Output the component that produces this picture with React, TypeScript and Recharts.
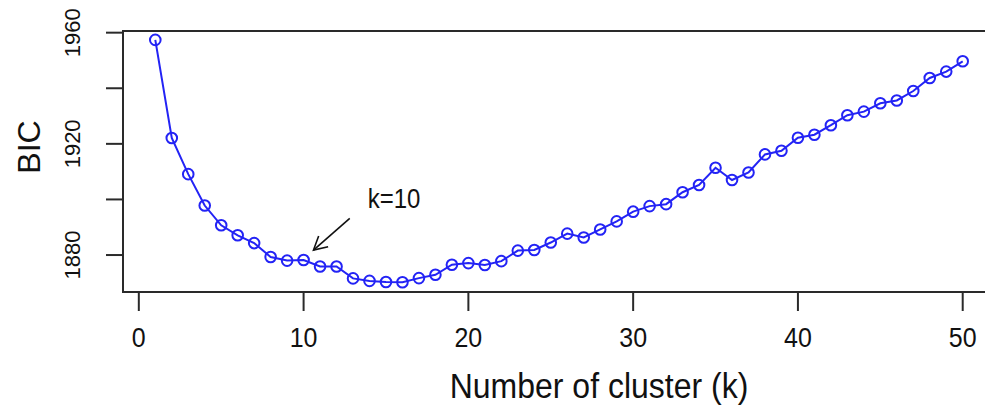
import { LineChart, Line, XAxis, YAxis, ReferenceArea, ReferenceLine } from 'recharts';

// number of clusters k
const kValues = [
  1, 2, 3, 4, 5, 6, 7, 8, 9, 10, 11, 12, 13, 14, 15, 16, 17, 18, 19, 20, 21, 22, 23, 24, 25,
  26, 27, 28, 29, 30, 31, 32, 33, 34, 35, 36, 37, 38, 39, 40, 41, 42, 43, 44, 45, 46, 47, 48, 49, 50,
];

// BIC
const bicValues = [
  1957.4, 1922.1, 1909.1, 1897.8, 1890.7, 1887.1, 1884.3, 1879.3, 1878.0, 1878.2,
  1875.9, 1875.9, 1871.6, 1870.7, 1870.3, 1870.2, 1871.7, 1872.9, 1876.5, 1877.1,
  1876.4, 1877.8, 1881.6, 1881.8, 1884.5, 1887.7, 1886.3, 1889.2, 1892.1, 1895.6,
  1897.6, 1898.3, 1902.6, 1905.2, 1911.4, 1907.0, 1909.7, 1916.2, 1917.5, 1922.2,
  1923.3, 1926.7, 1930.3, 1931.6, 1934.6, 1935.6, 1939.0, 1943.7, 1946.0, 1949.7,
];

const xTicks = [0, 10, 20, 30, 40, 50];
const yTicks = [1880, 1900, 1920, 1940, 1960];
const yLabelled = [1880, 1920, 1960];

const xDomain = [-0.96, 51.96];
const yDomain = [1866.7, 1960.6];

// annotation arrow (tail -> tip), in data units
const arrowSegment = [
  { x: 12.8, y: 1893.2 },
  { x: 10.6, y: 1881.8 },
];
const arrowText = 'k=10';

const data = kValues.map((k, i) => ({ k, bic: bicValues[i] }));

const FONT = '"Liberation Sans", Arial, Helvetica, sans-serif';
const BLUE = '#2323f5';
const INK = '#2a2a2a';

// horizontal text in the source is a little taller than plain Arial
const tall = (x: number, y: number) => `translate(${x}, ${y}) scale(1, 1.12) translate(${-x}, ${-y})`;

const XTick = ({ x, y, payload }: any) => (
  <text
    x={x}
    y={y + 34}
    transform={tall(x, y + 34)}
    textAnchor="middle"
    fontSize={25}
    fontFamily={FONT}
    fill="#111"
  >
    {payload.value}
  </text>
);

const YTick = ({ x, y, payload }: any) => {
  if (!yLabelled.includes(payload.value)) return <g />;
  const bx = x - 24;
  return (
    <text
      x={bx}
      y={y}
      transform={`rotate(-90, ${bx}, ${y})`}
      textAnchor="middle"
      fontSize={22}
      fontFamily={FONT}
      fill="#111"
    >
      {payload.value}
    </text>
  );
};

const Arrow = (props: any) => {
  const { x1, y1, x2, y2 } = props;
  const ang = Math.atan2(y2 - y1, x2 - x1);
  const len = 15;
  const spread = 0.5;
  const a = [x2 - len * Math.cos(ang - spread), y2 - len * Math.sin(ang - spread)];
  const b = [x2 - len * Math.cos(ang + spread), y2 - len * Math.sin(ang + spread)];
  return (
    <g>
      <line x1={x1} y1={y1} x2={x2} y2={y2} stroke="#111" strokeWidth={1.6} />
      <polyline
        points={`${a[0]},${a[1]} ${x2},${y2} ${b[0]},${b[1]}`}
        fill="none"
        stroke="#111"
        strokeWidth={1.6}
      />
      <text
        x={x1 + 18}
        y={y1 - 10}
        transform={tall(x1 + 18, y1 - 10)}
        fontSize={24}
        fontFamily={FONT}
        fill="#111"
      >
        {arrowText}
      </text>
    </g>
  );
};

export default function App() {
  return (
    <div
      style={{
        position: 'absolute',
        left: 0,
        top: 0,
        width: 985,
        height: 411,
        overflow: 'hidden',
        background: '#fff',
      }}
    >
      <LineChart width={1000} height={411} data={data} margin={{ top: 31, right: 5, left: 0, bottom: 19 }}>
        <ReferenceArea
          x1={xDomain[0]}
          x2={xDomain[1]}
          y1={yDomain[0]}
          y2={yDomain[1]}
          fill="none"
          stroke={INK}
          strokeWidth={2}
          ifOverflow="visible"
        />
        <XAxis
          dataKey="k"
          type="number"
          domain={xDomain}
          ticks={xTicks}
          allowDataOverflow
          height={100}
          axisLine={false}
          tickSize={19}
          tickLine={{ stroke: INK, strokeWidth: 2 }}
          tick={<XTick />}
          label={{
            content: ({ viewBox }: any) => {
              const cx = viewBox.x + viewBox.width / 2 + 40;
              return (
                <text
                  x={cx}
                  y={398}
                  transform={tall(cx, 398)}
                  textAnchor="middle"
                  fontSize={32}
                  fontFamily={FONT}
                  fill="#111"
                >
                  Number of cluster (k)
                </text>
              );
            },
          }}
        />
        <YAxis
          type="number"
          domain={yDomain}
          ticks={yTicks}
          allowDataOverflow
          width={123}
          axisLine={false}
          tickSize={17}
          tickLine={{ stroke: INK, strokeWidth: 2 }}
          tick={<YTick />}
          label={{
            content: () => (
              <text
                x={40}
                y={147}
                transform="rotate(-90, 40, 147)"
                textAnchor="middle"
                fontSize={32}
                fontFamily={FONT}
                fill="#111"
              >
                BIC
              </text>
            ),
          }}
        />
        <ReferenceLine segment={arrowSegment} shape={<Arrow />} ifOverflow="visible" />
        <Line
          dataKey="bic"
          stroke={BLUE}
          strokeWidth={2}
          dot={{ r: 5.3, stroke: BLUE, strokeWidth: 2, fill: 'none' }}
          activeDot={false}
          isAnimationActive={false}
        />
      </LineChart>
    </div>
  );
}
